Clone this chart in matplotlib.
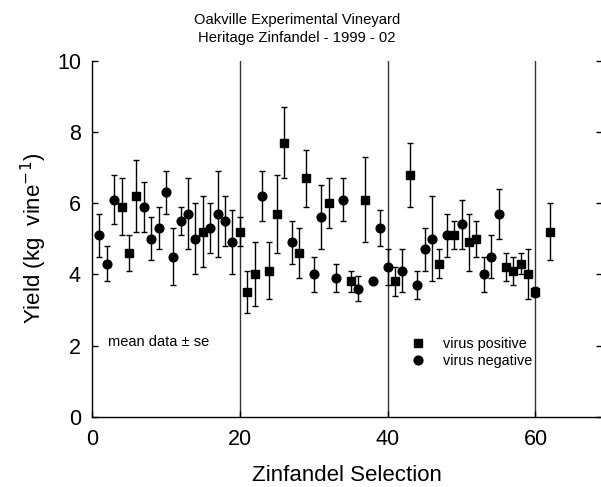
import matplotlib
matplotlib.use("Agg")
import matplotlib.pyplot as plt
from matplotlib.lines import Line2D
import numpy as np

plt.rcParams['font.family'] = ['Liberation Sans', 'DejaVu Sans']

# virus positive (squares)
pos_x = [4, 5, 6, 15, 20, 21, 22, 24, 25, 26, 28, 29, 32, 35, 37, 41, 43, 47, 49, 51, 52, 56, 57, 58, 59, 60, 62]
pos_y = [5.9, 4.6, 6.2, 5.2, 5.2, 3.5, 4.0, 4.1, 5.7, 7.7, 4.6, 6.7, 6.0, 3.8, 6.1, 3.8, 6.8, 4.3, 5.1, 4.9, 5.0, 4.2, 4.1, 4.3, 4.0, 3.5, 5.2]
pos_se = [0.8, 0.5, 1.0, 1.0, 0.4, 0.6, 0.9, 0.8, 1.1, 1.0, 0.7, 0.8, 0.7, 0.3, 1.2, 0.4, 0.9, 0.4, 0.4, 0.8, 0.5, 0.4, 0.4, 0.3, 0.7, 0.15, 0.8]

# virus negative (circles)
neg_x = [1, 2, 3, 7, 8, 9, 10, 11, 12, 13, 14, 16, 17, 18, 19, 23, 27, 30, 31, 33, 34, 36, 38, 39, 40, 42, 44, 45, 46, 48, 50, 53, 54, 55]
neg_y = [5.1, 4.3, 6.1, 5.9, 5.0, 5.3, 6.3, 4.5, 5.5, 5.7, 5.0, 5.3, 5.7, 5.5, 4.9, 6.2, 4.9, 4.0, 5.6, 3.9, 6.1, 3.6, 3.8, 5.3, 4.2, 4.1, 3.7, 4.7, 5.0, 5.1, 5.4, 4.0, 4.5, 5.7]
neg_se = [0.6, 0.5, 0.7, 0.7, 0.6, 0.6, 0.6, 0.8, 0.4, 1.0, 1.0, 0.7, 1.2, 0.7, 0.9, 0.7, 0.6, 0.5, 0.9, 0.4, 0.6, 0.35, 0.05, 0.5, 0.5, 0.6, 0.4, 0.6, 1.2, 0.6, 0.7, 0.5, 0.6, 0.7]

group_lines = [20, 40, 60]
x_ticks = [0, 20, 40, 60]
y_ticks = [0, 2, 4, 6, 8, 10]

fig = plt.figure(figsize=(6.01, 4.87), dpi=100)
ax = fig.add_axes([92/601, 1 - 416.7/487, 510/601, 356/487])

for gx in group_lines:
    ax.axvline(gx, color='#333333', lw=1.0, zorder=1)

ax.errorbar(neg_x, neg_y, yerr=neg_se, fmt='o', color='black', ms=6.3,
            ecolor='black', elinewidth=1.0, capsize=2.0, capthick=1.0, zorder=3)
ax.errorbar(pos_x, pos_y, yerr=pos_se, fmt='s', color='black', ms=5.3,
            ecolor='black', elinewidth=1.0, capsize=2.0, capthick=1.0, zorder=3)

ax.set_xlim(0, 69)
ax.set_ylim(0, 10)
ax.set_xticks(x_ticks)
ax.set_yticks(y_ticks)
ax.tick_params(axis='both', direction='in', length=4, width=1, labelsize=15.5)
ax.tick_params(axis='y', right=True, pad=8)
ax.tick_params(axis='x', pad=9)
ax.spines['top'].set_visible(False)
for s in ['left', 'bottom', 'right']:
    ax.spines[s].set_linewidth(1.0)

ax.set_xlabel('Zinfandel Selection', fontsize=16, labelpad=11)
ax.set_ylabel('Yield (kg  vine$^{-1}$)', fontsize=16, labelpad=6)

ax.text(2.2, 2.1, 'mean data \u00b1 se', fontsize=10.5, va='center', ha='left')

handles = [Line2D([], [], marker='s', color='black', ls='none', ms=5.3),
           Line2D([], [], marker='o', color='black', ls='none', ms=6.3)]
ax.legend(handles, ['virus positive', 'virus negative'], loc='upper left',
          bbox_to_anchor=(0.625, 0.224), frameon=False, fontsize=10.4,
          handlelength=1.0, handletextpad=1.2, labelspacing=0.2,
          borderpad=0, borderaxespad=0)

fig.text(297/601, 1 - 20/487, 'Oakville Experimental Vineyard', fontsize=10.6,
         ha='center', va='center')
fig.text(297/601, 1 - 38/487, 'Heritage Zinfandel - 1999 - 02', fontsize=10.6,
         ha='center', va='center')

fig.savefig('out.png', dpi=100)
